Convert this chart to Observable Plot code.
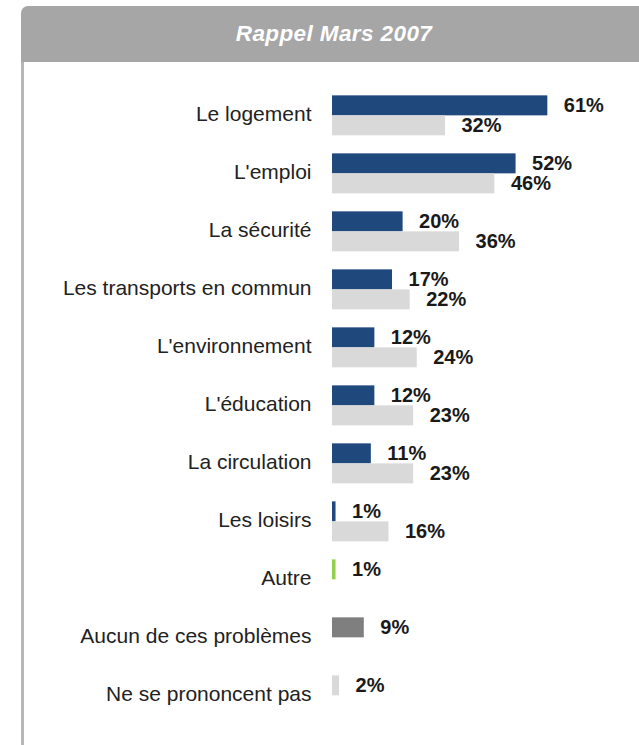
<!DOCTYPE html>
<html>
<head>
<meta charset="utf-8">
<script src="https://cdn.jsdelivr.net/npm/d3@7"></script>
<script src="https://cdn.jsdelivr.net/npm/@observablehq/plot@0.6"></script>
<style>
  html, body { margin: 0; padding: 0; background: #ffffff; }
  #wrap { position: relative; width: 639px; height: 745px; overflow: hidden; font-family: "Liberation Sans", Arial, sans-serif; }
  #header {
    position: absolute; left: 21px; top: 6px; width: 626px; height: 56px;
    background: #a6a6a6; border-top-left-radius: 7px;
    color: #ffffff; font-weight: bold; font-style: italic; font-size: 22.5px;
    line-height: 55px; text-align: center; letter-spacing: 0.4px;
  }
  #leftline { position: absolute; left: 21px; top: 62px; width: 3px; height: 683px; background: #b6b6b6; }
  #chart { position: absolute; left: 0; top: 62px; }
</style>
</head>
<body>
<div id="wrap">
  <div id="header">Rappel Mars 2007</div>
  <div id="leftline"></div>
  <div id="chart"></div>
</div>
<script>
const categories = [
  "Le logement", "L'emploi", "La sécurité", "Les transports en commun",
  "L'environnement", "L'éducation", "La circulation", "Les loisirs",
  "Autre", "Aucun de ces problèmes", "Ne se prononcent pas"
];
const seriesNames = ["Actuel", "Rappel Mars 2007"];
const currentValues = [61, 52, 20, 17, 12, 12, 11, 1, 1, 9, 2];
const previousValues = [32, 46, 36, 22, 24, 23, 23, 16, null, null, null];
const currentColors = [
  "#1f497d", "#1f497d", "#1f497d", "#1f497d", "#1f497d", "#1f497d", "#1f497d", "#1f497d",
  "#92d050", "#7f7f7f", "#d9d9d9"
];
const previousColor = "#d9d9d9";

const data = [];
categories.forEach((c, i) => {
  if (currentValues[i] != null) data.push({cat: c, series: seriesNames[0], value: currentValues[i], color: currentColors[i]});
  if (previousValues[i] != null) data.push({cat: c, series: seriesNames[1], value: previousValues[i], color: previousColor});
});

const chart = Plot.plot({
  width: 639,
  height: 683,
  marginLeft: 332,
  marginRight: 3.4,
  marginTop: 20.65,
  marginBottom: 16.35,
  style: {background: "transparent", fontFamily: "'Liberation Sans', Arial, sans-serif", color: "#1a1a1a"},
  x: {domain: [0, 86], axis: null},
  y: {domain: seriesNames, padding: 0, axis: null},
  fy: {domain: categories, paddingInner: 0.2845, paddingOuter: 0.142, axis: null, label: null},
  color: {type: "identity"},
  marks: [
    Plot.barX(data, {fy: "cat", y: "series", x: "value", fill: "color"}),
    Plot.text(data, {fy: "cat", y: "series", x: "value", text: d => d.value + "%", dx: 16, dy: 0, textAnchor: "start", fontWeight: "bold", fontSize: 20, fill: "#1a1a1a"}),
    Plot.axisFy({anchor: "left", tickSize: 0, tickPadding: 21, fontSize: 21, dy: -2, label: null, fill: "#222222"})
  ]
});
document.getElementById("chart").appendChild(chart);
</script>
</body>
</html>
